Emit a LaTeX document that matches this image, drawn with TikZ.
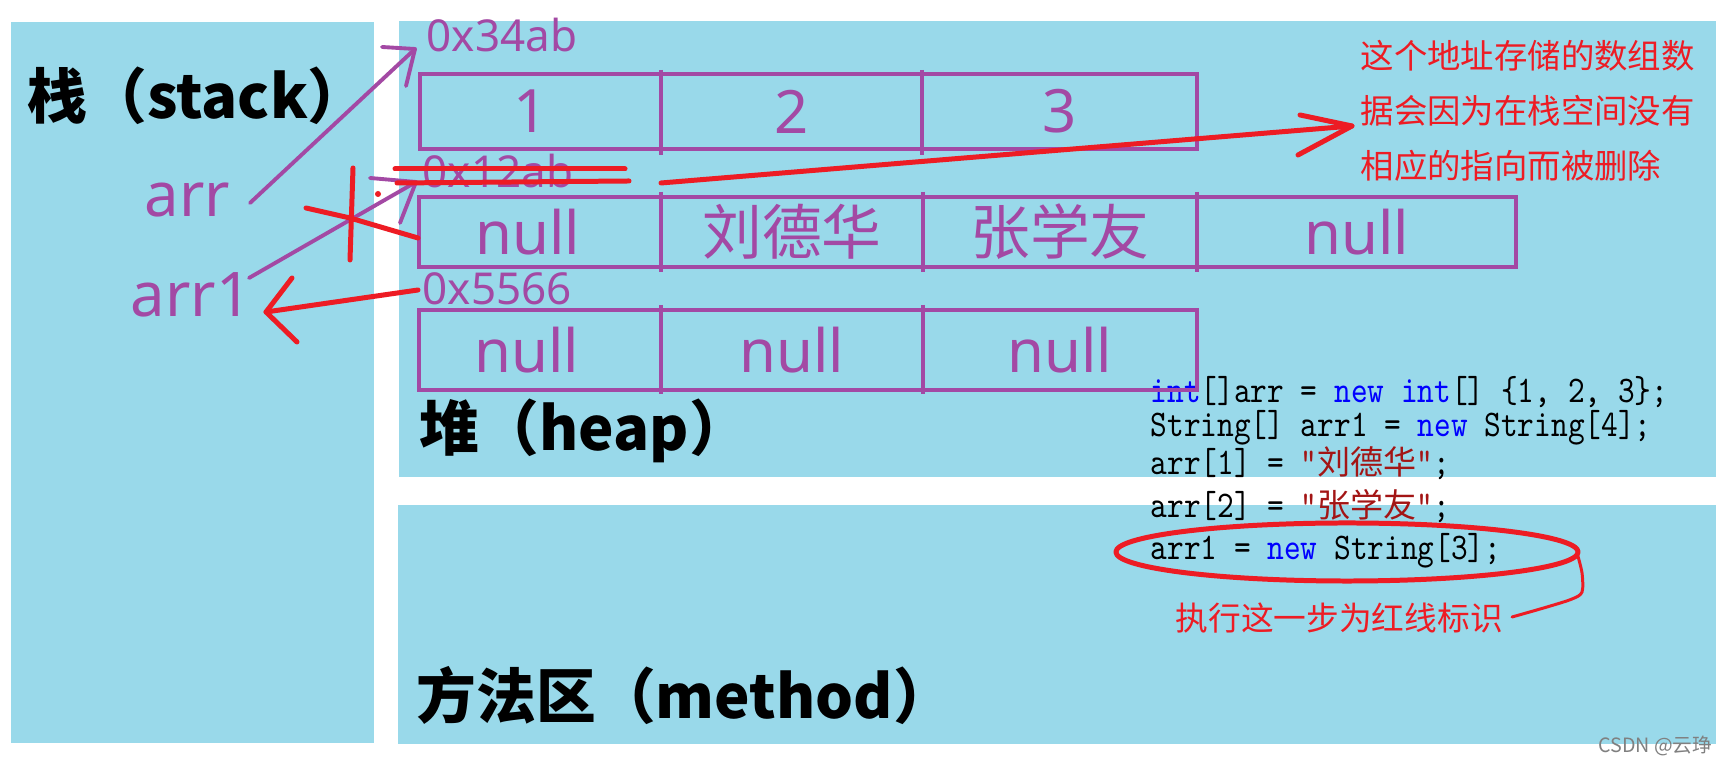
\documentclass[tikz,border=0pt]{standalone}
\usepackage{fontspec}
\setmainfont{Noto Sans}
\newfontfamily\cjk{Noto Sans CJK SC}
\newfontfamily\codefont{lmmono10-regular.otf}[FakeStretch=0.845]
\usetikzlibrary{arrows.meta}
\definecolor{panel}{RGB}{153,217,234}
\definecolor{ppl}{RGB}{163,73,164}
\definecolor{rd}{RGB}{237,28,36}
\definecolor{kw}{RGB}{0,0,255}
\definecolor{strc}{RGB}{163,21,21}
\begin{document}
\begin{tikzpicture}[x=0.01cm,y=-0.01cm,
  cell/.style={draw=ppl,line width=1.15pt,inner sep=0pt,outer sep=0pt,text=ppl,font=\fontsize{17}{20}\selectfont},
  tick/.style={draw=ppl,line width=1.15pt},
  addr/.style={anchor=base west,inner sep=0pt,text=ppl,font=\fontsize{12.5}{15}\selectfont},
  var/.style={anchor=base west,inner sep=0pt,text=ppl,font=\fontsize{17.5}{20}\selectfont},
  head/.style={anchor=west,inner sep=0pt,text=black,font=\cjk\bfseries\fontsize{17}{20}\selectfont},
  code/.style={anchor=base west,inner sep=0pt,text=black,font=\codefont\fontsize{10.7}{12}\selectfont},
  parrow/.style={draw=ppl,line width=1.1pt,line cap=round,line join=round},
  rline/.style={draw=rd,line width=1.42pt,line cap=round,line join=round},
  rthin/.style={draw=rd,line width=0.85pt,line cap=round,line join=round}]
\useasboundingbox (0,0) rectangle (1728,765);
\fill[white] (0,0) rectangle (1728,765);
% panels
\fill[panel] (11,22) rectangle (374,743);
\fill[panel] (399,21) rectangle (1716,477);
\fill[panel] (398,505) rectangle (1716,744);
% code (under the boxes)
\newcommand{\cz}[1]{{\cjk\fontsize{9.4}{12}\selectfont #1}}
\node[code] (l1) at (1150,403) {\textcolor{kw}{int}[]arr = \textcolor{kw}{new int}[] \{1, 2, 3\};};
\node[code] (l2) at (1150,437) {String[] arr1 = \textcolor{kw}{new} String[4];};
\node[code] (l3) at (1150,475) {arr[1] = \textcolor{strc}{"\cz{刘德华}"};};
\node[code] (l4) at (1150,518) {arr[2] = \textcolor{strc}{"\cz{张学友}"};};
\node[code] (l5) at (1150,560) {arr1 = \textcolor{kw}{new} String[3];};
% row 1
\node[cell,minimum width=2.41cm,minimum height=0.75cm] (a1) at (540.5,111.5) {1\kern0.2cm};
\node[cell,minimum width=2.61cm,minimum height=0.75cm] (a2) at (791.5,111.5) {2};
\node[cell,minimum width=2.75cm,minimum height=0.75cm] (a3) at (1059.5,111.5) {3};
% row 2
\node[cell,minimum width=2.42cm,minimum height=0.70cm] (b1) at (540,232) {null\kern0.24cm};
\node[cell,minimum width=2.62cm,minimum height=0.70cm] (b2) at (792,232) {\cjk 刘德华};
\node[cell,minimum width=2.74cm,minimum height=0.70cm] (b3) at (1060,232) {\cjk 张学友};
\node[cell,minimum width=3.19cm,minimum height=0.70cm] (b4) at (1356.5,232) {null};
% row 3
\node[cell,minimum width=2.42cm,minimum height=0.80cm] (c1) at (540,350) {null\kern0.26cm};
\node[cell,minimum width=2.62cm,minimum height=0.80cm] (c2) at (792,350) {null};
\node[cell,minimum width=2.74cm,minimum height=0.80cm] (c3) at (1060,350) {null};
% divider ticks
\draw[tick] (661,70) -- (661,155);
\draw[tick] (922,70) -- (922,155);
\draw[tick] (661,192) -- (661,272);
\draw[tick] (923,192) -- (923,272);
\draw[tick] (1197,192) -- (1197,272);
\draw[tick] (661,305) -- (661,394);
\draw[tick] (923,305) -- (923,394);
% addresses
\node[addr] (ad1) at (426,52) {0x34ab};
\node[addr] (ad2) at (422,188) {0x12ab};
\node[addr] (ad3) at (422,305) {0x5566};
% headings
\node[head] (hs) at (27,96) {栈（stack）};
\node[head] (hh) at (419,431) {堆（heap）};
\node[head] (hm) at (416,696) {方法区（method）};
% stack variables
\node[var] (arr) at (144,217) {arr};
\node[var] (arr1) at (130,317) {arr1};
% red notes
\node[anchor=west,inner sep=0pt,text=rd,align=left,font=\cjk\fontsize{9.5}{15.65}\selectfont] (note) at (1360,111)
  {这个地址存储的数组数\\据会因为在栈空间没有\\相应的指向而被删除};
\node[anchor=west,inner sep=0pt,text=rd,font=\cjk\fontsize{9.3}{11}\selectfont] (mark) at (1175,618) {执行这一步为红线标识};
% watermark
\node[anchor=east,inner sep=0pt,text=gray,font=\cjk\fontsize{5.6}{7}\selectfont] (wm) at (1713,746) {CSDN @云琤};
% purple arrows
\coordinate (p1s) at (250,203); \coordinate (p1t) at (415,49);
\draw[parrow] (p1s) -- (p1t);
\draw[parrow] (382,47) -- (p1t) -- (406,86);
\coordinate (p2s) at (249,278); \coordinate (p2t) at (416,182);
\draw[parrow] (p2s) -- (p2t);
\draw[parrow] (370,178) -- (p2t) -- (400,223);
% red marks
\draw[rline] (353,168) -- (350,260);
\draw[rline] (306,208) -- (350,218) -- (418,238);
\fill[rd] (378,194) circle[radius=0.03cm];
\draw[rline] (395,169) -- (625,169);
\draw[rline] (397,183) -- (629,181);
\coordinate (r1s) at (418,290); \coordinate (r1t) at (266,312);
\draw[rline] (r1s) -- (r1t);
\draw[rline] (292,278) -- (r1t) -- (297,342);
\coordinate (r2s) at (661,183); \coordinate (r2t) at (1352,126);
\draw[rline] (r2s) -- (r2t);
\draw[rline] (1300,115) -- (r2t) -- (1298,155);
% ellipse and tail
\draw[rline] (1347,552) ellipse[x radius=2.31cm,y radius=0.29cm];
\draw[rthin] plot[smooth] coordinates {(1577,553) (1582,573) (1582,592) (1572,599) (1547,607) (1512,617)};
\end{tikzpicture}
\end{document}
